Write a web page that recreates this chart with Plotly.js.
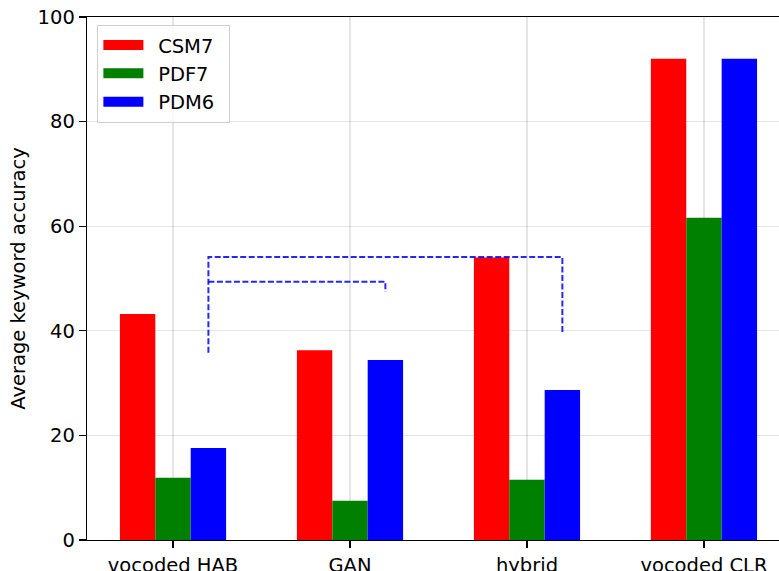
<!DOCTYPE html>
<html>
<head>
<meta charset="utf-8">
<script src="https://cdn.plot.ly/plotly-3.0.1.min.js"></script>
<style>
  html, body { margin: 0; padding: 0; background: #fff; }
  #chart { width: 779px; height: 571px; }
</style>
</head>
<body>
<div id="chart"></div>
<script>
// Conditions on the x axis
const categories = ['vocoded HAB', 'GAN', 'hybrid', 'vocoded CLR'];

// Average keyword accuracy per model
const csm7 = [43.2, 36.3, 54.0, 92.0];
const pdf7 = [11.9, 7.5, 11.5, 61.6];
const pdm6 = [17.6, 34.4, 28.7, 92.0];

const seriesNames = ['CSM7', 'PDF7', 'PDM6'];
const seriesColors = ['#ff0000', '#008000', '#0000ff'];
const seriesValues = [csm7, pdf7, pdm6];
const barOffsets = [-0.2, 0, 0.2];

// Comparison brackets: [x start, x end, y of left foot, y of bar, y of right foot]
const bracketStart = [0.2, 0.2];
const bracketEnd = [2.2, 1.2];
const bracketLeftFoot = [35.8, 49.4];
const bracketLevel = [54.1, 49.4];
const bracketRightFoot = [39.6, 47.4];

const xIdx = categories.map((_, i) => i);
const traces = [];

seriesValues.forEach((vals, s) => {
  traces.push({
    type: 'bar',
    x: xIdx.map(i => i + barOffsets[s]),
    y: vals,
    width: 0.2,
    marker: { color: seriesColors[s], line: { width: 0 } },
    name: seriesNames[s],
    showlegend: false,
    hoverinfo: 'y'
  });
});

// Wide swatches for the legend
seriesNames.forEach((n, s) => {
  traces.push({
    type: 'scatter',
    mode: 'lines',
    x: [null], y: [null],
    name: '\u2002' + n + '\u2002',
    line: { color: seriesColors[s], width: 14 },
    showlegend: true,
    hoverinfo: 'skip'
  });
});

bracketStart.forEach((x0, k) => {
  traces.push({
    type: 'scatter',
    mode: 'lines',
    x: [x0, x0, bracketEnd[k], bracketEnd[k]],
    y: [bracketLeftFoot[k], bracketLevel[k], bracketLevel[k], bracketRightFoot[k]],
    line: { color: 'rgba(0,0,255,0.85)', width: 2, dash: '6px,2.5px' },
    showlegend: false,
    hoverinfo: 'skip'
  });
});

const font = { family: 'DejaVu Sans, sans-serif', size: 19.5, color: '#000' };

const layout = {
  width: 779,
  height: 571,
  margin: { l: 87, r: 0, t: 17, b: 31 },
  paper_bgcolor: '#fff',
  plot_bgcolor: '#fff',
  font: font,
  showlegend: true,
  legend: {
    x: 0.015, y: 0.985, xanchor: 'left', yanchor: 'top',
    bgcolor: 'rgba(255,255,255,0.8)',
    bordercolor: '#d0d0d0', borderwidth: 1,
    itemwidth: 40,
    font: font,
    tracegroupgap: 0
  },
  xaxis: {
    range: [-0.486, 3.424],
    tickvals: xIdx,
    ticktext: categories,
    ticks: 'outside', ticklen: 7, tickwidth: 1.3, tickcolor: '#000',
    showline: true, linecolor: '#000', linewidth: 1.3, mirror: true,
    showgrid: true, gridcolor: 'rgba(0,0,0,0.1)', gridwidth: 1.3,
    layer: 'above traces',
    zeroline: false,
    tickfont: font
  },
  yaxis: {
    range: [0, 100],
    tickvals: [0, 20, 40, 60, 80, 100],
    ticks: 'outside', ticklen: 7, tickwidth: 1.3, tickcolor: '#000',
    showline: true, linecolor: '#000', linewidth: 1.3, mirror: false,
    showgrid: true, gridcolor: 'rgba(0,0,0,0.1)', gridwidth: 1.3,
    layer: 'above traces',
    zeroline: false,
    tickfont: font,
    title: { text: 'Average keyword accuracy', font: font, standoff: 6 }
  }
};

Plotly.newPlot('chart', traces, layout, { displayModeBar: false, staticPlot: true });
</script>
</body>
</html>
